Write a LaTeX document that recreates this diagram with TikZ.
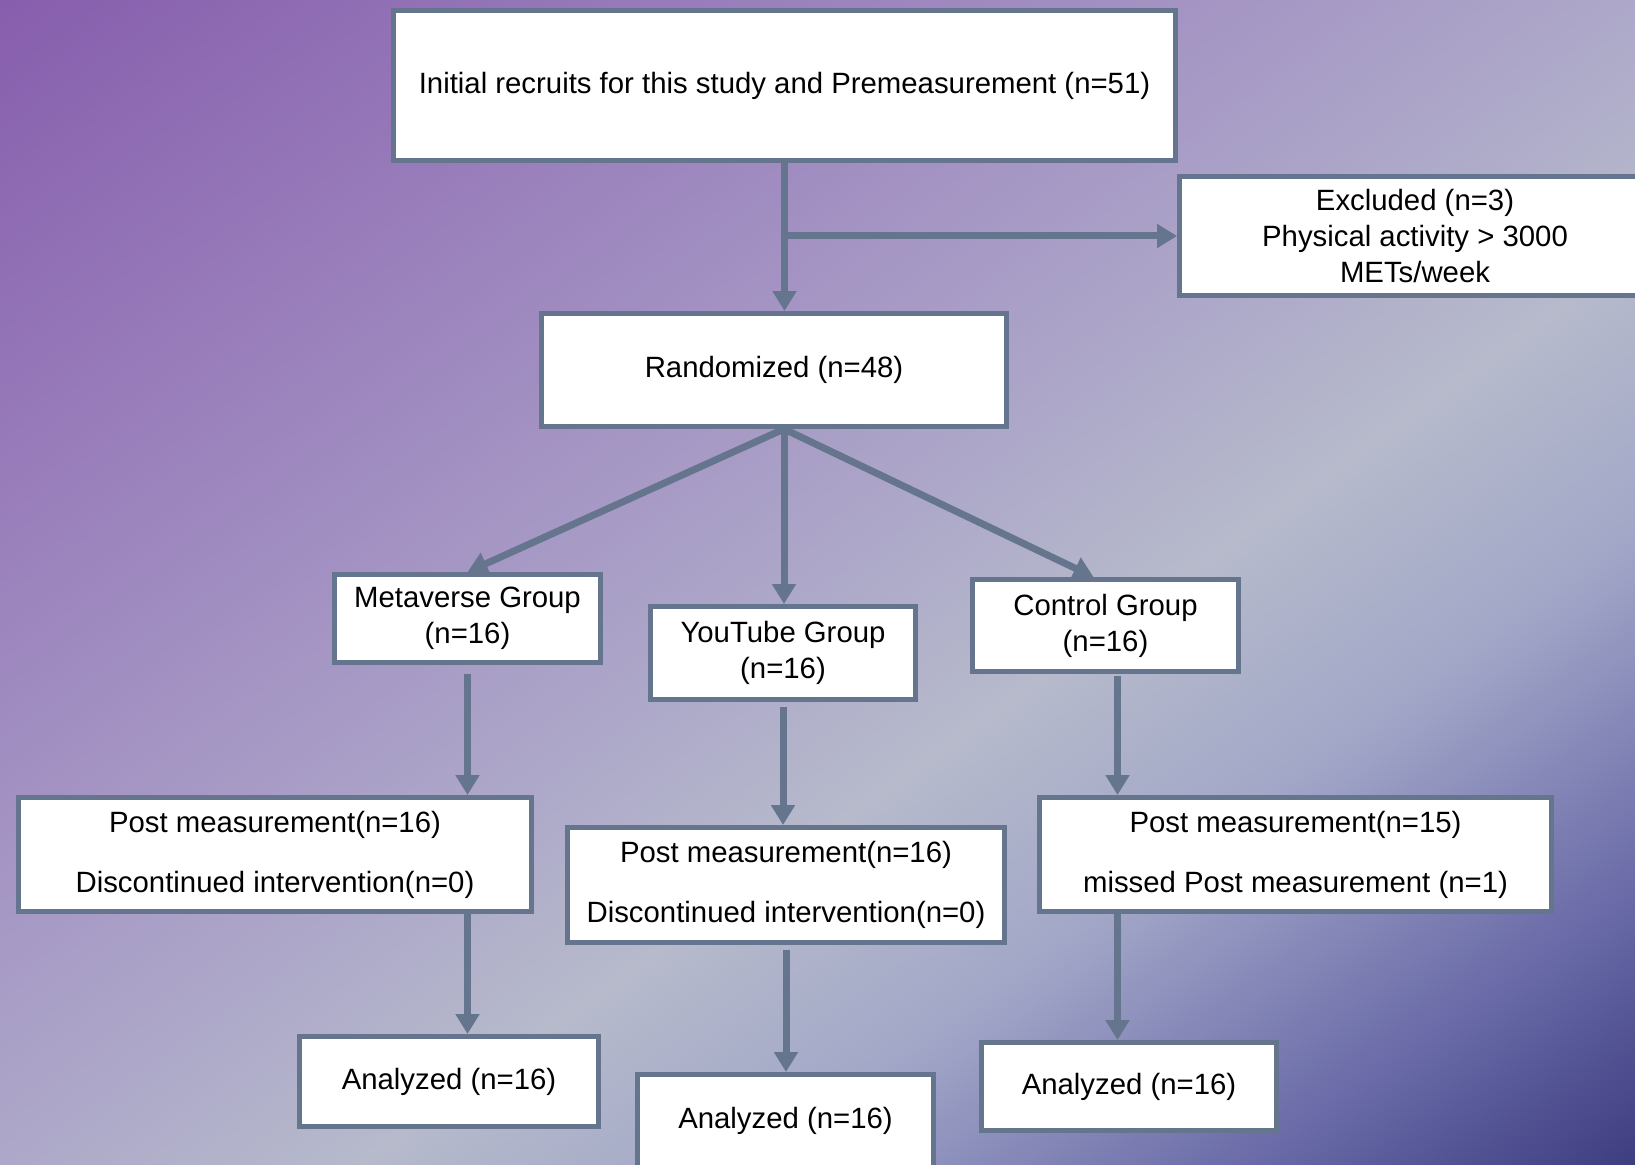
\documentclass[tikz,border=0pt]{standalone}
\usepackage{fontspec}
\setmainfont{Liberation Sans}
\usetikzlibrary{arrows.meta}
\definecolor{frameblue}{HTML}{65758E}
\definecolor{bgA}{HTML}{8357AA}
\definecolor{bgB}{HTML}{9577B8}
\definecolor{bgC}{HTML}{A596C4}
\definecolor{bgD}{HTML}{ADA8C9}
\definecolor{bgE}{HTML}{B6BACB}
\definecolor{bgF}{HTML}{A2A7C8}
\definecolor{bgG}{HTML}{6A6BA8}
\definecolor{bgH}{HTML}{3C3C80}
\pgfdeclarehorizontalshading{bgfade}{100bp}{color(0bp)=(bgA); color(12bp)=(bgA);
    color(27.2bp)=(bgB); color(41.6bp)=(bgC); color(50bp)=(bgD); color(57.6bp)=(bgE);
    color(66bp)=(bgF); color(76.5bp)=(bgG); color(85bp)=(bgH); color(100bp)=(bgH)}

\begin{document}
\begin{tikzpicture}[x=0.02cm,y=-0.02cm,
    box/.style={draw=frameblue,line width=0.1cm,fill=white,align=center,inner sep=0pt,
        font=\fontsize{16.7pt}{20.5pt}\selectfont},
    flow/.style={draw=frameblue,line width=0.14cm,-{Triangle[length=0.4cm,width=0.46cm]}}]
    \clip (0,0) rectangle (1635,1165);
    \shade[shading=bgfade,shading angle=-54.5] (0,0) rectangle (1635,1165);
    % enrolment
    \node[box,minimum width=15.64cm,minimum height=3cm] (init) at (784.5,85.5)
        {Initial recruits for this study and Premeasurement (n=51)};
    \node[box,minimum width=9.42cm,minimum height=2.38cm] (excl) at (1415,236)
        {Excluded (n=3)\\Physical activity > 3000\\METs/week};
    \node[box,minimum width=9.3cm,minimum height=2.26cm] (rand) at (774,370) {Randomized (n=48)};
    % allocation
    \node[box,minimum width=5.32cm,minimum height=1.76cm] (meta) at (467.5,618.5) {Metaverse Group\\(n=16)};
    \node[box,minimum width=5.3cm,minimum height=1.86cm] (yt) at (783,653) {YouTube Group\\(n=16)};
    \node[box,minimum width=5.32cm,minimum height=1.84cm] (ctrl) at (1105.5,625.5) {Control Group\\(n=16)};
    % follow-up
    \node[box,minimum width=10.26cm,minimum height=2.28cm] (post1) at (275,854.5)
        {Post measurement(n=16)\\[0.48cm]Discontinued intervention(n=0)};
    \node[box,minimum width=8.74cm,minimum height=2.3cm] (post2) at (786,885)
        {Post measurement(n=16)\\[0.48cm]Discontinued intervention(n=0)};
    \node[box,minimum width=10.24cm,minimum height=2.28cm] (post3) at (1295.5,854.5)
        {Post measurement(n=15)\\[0.48cm]missed Post measurement (n=1)};
    % analysis
    \node[box,minimum width=5.98cm,minimum height=1.8cm] (ana1) at (449,1081.5) {Analyzed (n=16)};
    \node[box,minimum width=5.92cm,minimum height=1.86cm] (ana2) at (785.5,1121) {Analyzed (n=16)};
    \node[box,minimum width=5.9cm,minimum height=1.76cm] (ana3) at (1129,1086.5) {Analyzed (n=16)};
    % arrows
    \draw[flow] (init.south) -- (init.south |- rand.north);
    \draw[flow] (init.south |- excl.west) -- (excl.west);
    \coordinate (split) at ([xshift=0.2cm]rand.south);
    \draw[flow] (split) -- (meta.north);
    \draw[flow] (split) -- (split |- yt.north);
    \draw[flow] (split) -- ([xshift=-0.24cm]ctrl.north);
    \draw[flow] ([yshift=-0.18cm]meta.south) -- (meta.south |- post1.north);
    \draw[flow] (post1.south -| meta.south) -- (meta.south |- ana1.north);
    \draw[flow] ([yshift=-0.1cm]yt.south) -- (yt.south |- post2.north);
    \draw[flow] ([yshift=-0.1cm]post2.south) -- (post2.south |- ana2.north);
    \coordinate (cline) at ([xshift=0.24cm,yshift=-0.04cm]ctrl.south);
    \draw[flow] (cline) -- (cline |- post3.north);
    \draw[flow] (post3.south -| cline) -- (cline |- ana3.north);
\end{tikzpicture}
\end{document}
